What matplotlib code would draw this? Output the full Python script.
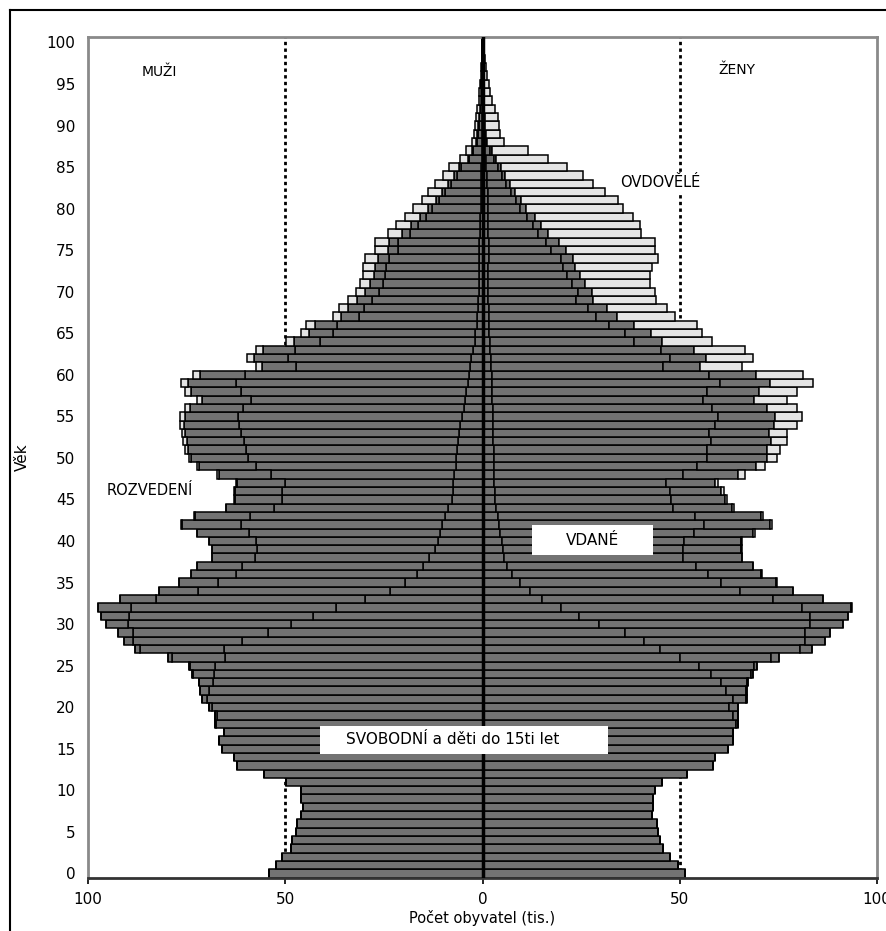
import numpy as np
import matplotlib.pyplot as plt
from matplotlib.lines import Line2D
from matplotlib.patches import Rectangle

# Age categories (one bar per year of age)
ages = list(range(0, 101))

# Men, thousands, by marital status
men_single = [54.2, 52.4, 50.7, 48.5, 48.2, 47.3, 46.9, 46.0, 45.6, 46.0,
              46.0, 49.8, 55.4, 62.2, 63.0, 66.0, 66.8, 65.6, 67.6, 67.4,
              68.6, 69.8, 69.3, 68.3, 68.0, 67.9, 65.3, 65.5, 61.0, 54.4,
              48.6, 43.0, 37.2, 29.7, 23.5, 19.6, 16.5, 15.2, 13.5, 12.0,
              11.2, 10.8, 10.2, 9.5, 8.8, 7.8, 7.6, 7.5, 7.2, 6.8,
              6.7, 6.5, 6.2, 6.0, 5.6, 5.3, 4.8, 4.4, 4.2, 3.8,
              3.5, 3.2, 2.9, 2.4, 2.0, 1.8, 1.5, 1.3, 1.2, 1.1,
              1.0, 1.0, 0.9, 0.9, 0.8, 0.8, 0.8, 0.7, 0.6, 0.6,
              0.5, 0.5, 0.4, 0.4, 0.3, 0.3, 0.2, 0.2, 0.1, 0.1,
              0.1, 0.1, 0.05, 0.05, 0.04, 0.03, 0.02, 0.02, 0.01, 0.01, 0.01]
men_married = [0, 0, 0, 0, 0, 0, 0, 0, 0, 0,
               0, 0, 0, 0, 0, 0, 0, 0, 0.1, 0.3,
               0.8, 1.3, 2.2, 3.5, 5.5, 6.2, 13.5, 21.2, 27.5, 34.1,
               41.3, 46.5, 51.8, 53.0, 48.6, 47.4, 46.1, 45.8, 44.1, 45.2,
               46.1, 48.5, 51.0, 49.5, 44.1, 43.0, 43.1, 42.6, 46.4, 50.6,
               52.7, 53.5, 54.3, 55.1, 56.0, 56.6, 56.0, 54.2, 57.1, 58.6,
               56.6, 44.1, 46.4, 45.2, 39.2, 36.1, 35.5, 30.1, 28.8, 26.9,
               25.2, 24.3, 23.7, 23.5, 23.0, 20.6, 20.5, 17.6, 15.8, 13.8,
               12.2, 10.4, 9.0, 7.7, 6.2, 5.1, 3.3, 2.2, 1.4, 1.1,
               0.9, 0.7, 0.6, 0.4, 0.32, 0.24, 0.14, 0.1, 0.06, 0.04, 0.03]
men_divorced = [0, 0, 0, 0, 0, 0, 0, 0, 0, 0,
                0, 0, 0, 0, 0, 0, 0, 0, 0, 0,
                0, 0, 0, 0.1, 0.2, 0.4, 0.8, 1.3, 2.5, 3.8,
                5.5, 7.2, 8.4, 9.3, 10.0, 10.0, 11.4, 11.4, 11.0, 11.4,
                12.0, 13.0, 15.0, 14.0, 12.0, 12.0, 12.0, 12.2, 13.3, 14.5,
                14.5, 14.6, 14.5, 14.2, 14.0, 13.6, 13.3, 12.5, 12.5, 12.3,
                11.5, 8.6, 8.6, 8.0, 6.6, 6.0, 5.5, 4.5, 4.2, 3.8,
                3.5, 3.2, 3.0, 2.9, 2.8, 2.6, 2.4, 2.1, 1.8, 1.5,
                1.2, 1.0, 0.9, 0.7, 0.6, 0.5, 0.3, 0.2, 0.1, 0.1,
                0.1, 0.1, 0.05, 0.05, 0.04, 0.03, 0.02, 0.01, 0.01, 0.01, 0.0]
men_widowed = [0, 0, 0, 0, 0, 0, 0, 0, 0, 0,
               0, 0, 0, 0, 0, 0, 0, 0, 0, 0,
               0, 0, 0, 0, 0, 0, 0, 0, 0, 0,
               0, 0, 0, 0, 0, 0, 0, 0, 0, 0,
               0.1, 0.1, 0.2, 0.2, 0.2, 0.2, 0.3, 0.3, 0.4, 0.5,
               0.6, 0.7, 0.8, 0.9, 1.0, 1.1, 1.2, 1.3, 1.5, 1.7,
               1.8, 1.6, 1.7, 1.9, 2.0, 2.1, 2.2, 2.1, 2.2, 2.2,
               2.3, 2.5, 2.7, 3.0, 3.2, 3.3, 3.6, 3.6, 3.6, 3.7,
               3.7, 3.5, 3.4, 3.2, 2.9, 2.6, 1.9, 1.5, 1.0, 0.9,
               0.8, 0.7, 0.6, 0.5, 0.4, 0.3, 0.22, 0.17, 0.12, 0.09, 0.06]

# Women, thousands, by marital status
women_single = [51.3, 49.6, 47.5, 45.8, 45.0, 44.6, 44.2, 42.9, 43.3, 43.3,
                43.7, 45.4, 51.8, 58.5, 58.9, 62.3, 63.5, 63.4, 64.2, 63.6,
                62.6, 63.4, 61.8, 60.5, 58.0, 55.0, 50.0, 45.0, 41.0, 36.0,
                29.5, 24.5, 20.0, 15.0, 12.0, 9.5, 7.4, 6.1, 5.5, 5.2,
                4.9, 4.5, 4.1, 3.9, 3.5, 3.2, 3.1, 3.0, 3.0, 2.9,
                2.8, 2.8, 2.7, 2.7, 2.6, 2.6, 2.6, 2.5, 2.5, 2.5,
                2.5, 2.1, 2.1, 2.0, 1.8, 1.7, 1.7, 1.6, 1.6, 1.5,
                1.5, 1.5, 1.5, 1.5, 1.6, 1.6, 1.6, 1.5, 1.5, 1.5,
                1.4, 1.4, 1.3, 1.2, 1.1, 1.0, 0.8, 0.6, 0.3, 0.3,
                0.3, 0.3, 0.2, 0.2, 0.15, 0.12, 0.1, 0.08, 0.06, 0.04, 0.03]
women_married = [0, 0, 0, 0, 0, 0, 0, 0, 0, 0,
                 0, 0, 0, 0, 0, 0, 0.1, 0.2, 0.6, 1.2,
                 2.2, 3.5, 5.0, 6.6, 10.1, 13.9, 23.2, 35.6, 40.8, 45.7,
                 53.6, 58.5, 60.9, 58.6, 53.2, 51.0, 49.7, 48.1, 45.4, 45.7,
                 46.2, 49.1, 52.0, 50.0, 44.9, 44.6, 44.4, 43.6, 47.8, 51.4,
                 54.0, 54.2, 55.2, 54.8, 56.3, 57.1, 55.7, 53.4, 54.5, 57.7,
                 54.8, 43.7, 45.4, 43.2, 36.6, 34.3, 30.4, 27.1, 25.1, 22.2,
                 22.6, 21.2, 20.0, 18.8, 18.2, 15.8, 14.6, 12.6, 11.2, 9.8,
                 8.2, 7.0, 5.8, 4.8, 3.9, 3.0, 2.2, 1.4, 0.6, 0.4,
                 0.3, 0.25, 0.2, 0.15, 0.1, 0.07, 0.05, 0.03, 0.02, 0.01, 0.01]
women_divorced = [0, 0, 0, 0, 0, 0, 0, 0, 0, 0,
                  0, 0, 0, 0, 0, 0, 0, 0, 0, 0,
                  0, 0.1, 0.2, 0.3, 0.5, 0.8, 2.0, 3.0, 5.0, 6.4,
                  8.4, 9.7, 12.6, 12.7, 13.5, 14.0, 13.6, 14.3, 14.8, 14.6,
                  14.5, 15.0, 16.7, 16.6, 14.8, 13.6, 13.0, 12.3, 14.0, 15.0,
                  15.2, 15.2, 15.3, 15.0, 15.0, 14.4, 13.8, 13.0, 13.0, 12.7,
                  12.0, 9.3, 9.1, 8.5, 7.2, 6.6, 6.2, 5.3, 4.8, 4.3,
                  3.6, 3.4, 3.3, 3.2, 3.1, 3.8, 3.3, 2.6, 2.2, 1.9,
                  1.4, 1.3, 1.1, 0.9, 0.8, 0.6, 0.5, 0.3, 0.2, 0.1,
                  0.1, 0.1, 0.1, 0.05, 0.05, 0.03, 0.02, 0.02, 0.01, 0.01, 0.01]
women_widowed = [0, 0, 0, 0, 0, 0, 0, 0, 0, 0,
                 0, 0, 0, 0, 0, 0, 0, 0, 0, 0,
                 0, 0, 0, 0, 0, 0, 0, 0, 0, 0,
                 0, 0, 0.1, 0.1, 0.1, 0.1, 0.1, 0.1, 0.2, 0.2,
                 0.3, 0.4, 0.5, 0.5, 0.6, 0.7, 0.8, 0.9, 1.7, 2.3,
                 2.6, 3.2, 3.9, 4.6, 5.7, 6.8, 7.5, 8.2, 9.6, 11.0,
                 12.0, 10.6, 12.0, 12.8, 12.5, 13.0, 16.0, 14.8, 15.2, 16.1,
                 16.0, 16.4, 17.7, 19.4, 21.7, 22.5, 24.2, 23.6, 25.0, 25.0,
                 24.7, 24.7, 22.8, 21.2, 19.8, 16.7, 13.2, 9.3, 4.4, 3.7,
                 3.5, 3.35, 2.7, 2.1, 1.7, 1.38, 1.03, 0.77, 0.61, 0.44, 0.35]

xticks = [-100, -50, 0, 50, 100]
xticklabels = ['100', '50', '0', '50', '100']
yticks = list(range(0, 101, 5))

gray = '#737373'
light = '#e4e4e4'

fig = plt.figure(figsize=(8.87, 9.31), dpi=100)
ax = fig.add_axes([88 / 887, 1 - 878 / 931, (877 - 88) / 887, (878 - 37) / 931])


def draw_side(parts, sign):
    # stack segments outward from the centre line
    left = np.zeros(len(ages))
    for vals, col in parts:
        v = np.array(vals, dtype=float)
        ax.barh(ages, sign * v, left=sign * left, height=1.0, color=col,
                edgecolor='black', linewidth=1.1, zorder=2)
        left += v


draw_side([(men_single, gray), (men_married, gray),
           (men_divorced, gray), (men_widowed, light)], -1)
draw_side([(women_single, gray), (women_married, gray),
           (women_divorced, gray), (women_widowed, light)], 1)

# reference lines
ax.axvline(-50, color='black', ls=(0, (1.2, 1.2)), lw=2, zorder=1)
ax.axvline(50, color='black', ls=(0, (1.2, 1.2)), lw=2, zorder=1)
ax.axvline(0, color='black', lw=2.5, zorder=3)

ax.set_xlim(-100, 100)
ax.set_ylim(-0.55, 100.65)

ax.set_xticks(xticks)
ax.set_xticklabels(xticklabels)
ax.set_yticks(yticks)
ax.tick_params(axis='y', length=0, pad=9, labelsize=11)
ax.tick_params(axis='x', length=4, width=1.2, pad=6, labelsize=11)

for s in ax.spines.values():
    s.set_color('#8a8a8a')
    s.set_linewidth(2)
ax.spines['bottom'].set_color('#333333')

ax.set_xlabel('Počet obyvatel (tis.)', fontsize=10.5, labelpad=2)
ax.set_ylabel('Věk', fontsize=11, labelpad=12)

# annotations
ax.text(-86.3, 96.4, 'MUŽI', fontsize=10, va='center', ha='left')
ax.text(59.7, 96.7, 'ŽENY', fontsize=10, va='center', ha='left')
ax.text(35.0, 83.1, 'OVDOVĚLÉ', fontsize=10.5, va='center', ha='left',
        zorder=4, bbox=dict(facecolor='white', edgecolor='none', pad=1))
ax.text(-95.2, 46.1, 'ROZVEDENÍ', fontsize=10.5, va='center', ha='left', zorder=4)

ax.add_patch(Rectangle((12.5, 38.3), 30.8, 3.6, facecolor='white',
                       edgecolor='none', zorder=4))
ax.text(27.9, 40.1, 'VDANÉ', fontsize=11, va='center', ha='center', zorder=5)

ax.add_patch(Rectangle((-41.2, 14.4), 73.0, 3.3, facecolor='white',
                       edgecolor='none', zorder=4))
ax.text(-7.5, 16.1, 'SVOBODNÍ a děti do 15ti let', fontsize=11,
        va='center', ha='center', zorder=5)

# outer frame of the original figure
fig.add_artist(Line2D([10 / 887, 10 / 887], [0, 1 - 10 / 931], color='black',
                      lw=1.5, transform=fig.transFigure))
fig.add_artist(Line2D([10 / 887, 1], [1 - 10 / 931, 1 - 10 / 931], color='black',
                      lw=1.5, transform=fig.transFigure))

fig.savefig('out.png', dpi=100)
